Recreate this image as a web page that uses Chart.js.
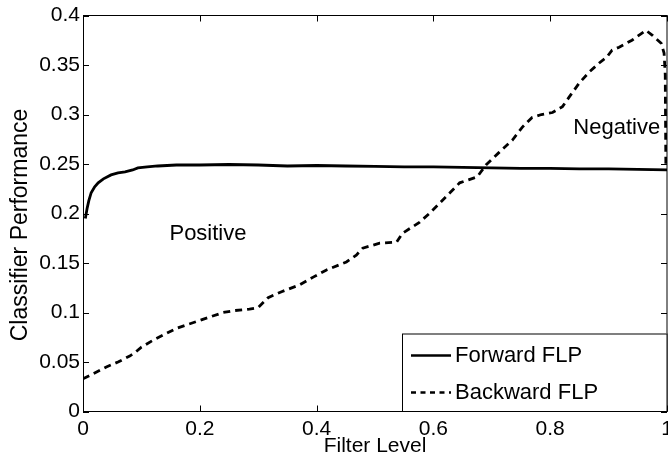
<!DOCTYPE html>
<html><head><meta charset="utf-8">
<script src="https://cdn.jsdelivr.net/npm/chart.js@4.4.0/dist/chart.umd.min.js"></script>
<style>html,body{margin:0;padding:0;background:#fff;}#wrap{width:668px;height:457px;}</style>
</head><body><div id="wrap"><canvas id="c" width="668" height="457"></canvas></div>
<script>
const FONT = '"Liberation Sans", Arial, Helvetica, sans-serif';

const xTicks = [0, 0.2, 0.4, 0.6, 0.8, 1];
const xTickLabels = ['0', '0.2', '0.4', '0.6', '0.8', '1'];
const yTicks = [0, 0.05, 0.1, 0.15, 0.2, 0.25, 0.3, 0.35, 0.4];
const yTickLabels = ['0', '0.05', '0.1', '0.15', '0.2', '0.25', '0.3', '0.35', '0.4'];

const xTitle = 'Filter Level';
const yTitle = 'Classifier Performance';
const seriesNames = ['Forward FLP', 'Backward FLP'];

const forwardX = [0.004, 0.007, 0.010, 0.014, 0.020, 0.026, 0.035, 0.048, 0.060, 0.072, 0.085, 0.094, 0.11, 0.128, 0.16, 0.20, 0.25, 0.30, 0.35, 0.40, 0.45, 0.50, 0.55, 0.60, 0.65, 0.70, 0.75, 0.80, 0.85, 0.90, 0.95, 1.00];
const forwardY = [0.195, 0.205, 0.213, 0.221, 0.227, 0.231, 0.235, 0.239, 0.241, 0.242, 0.244, 0.246, 0.247, 0.248, 0.249, 0.249, 0.2495, 0.249, 0.248, 0.2485, 0.248, 0.2475, 0.247, 0.247, 0.2465, 0.246, 0.2455, 0.2455, 0.245, 0.245, 0.2445, 0.244];

const backwardX = [0.000, 0.02, 0.04, 0.06, 0.08, 0.09, 0.10, 0.12, 0.14, 0.16, 0.18, 0.20, 0.22, 0.24, 0.26, 0.285, 0.30, 0.317, 0.34, 0.371, 0.395, 0.417, 0.451, 0.468, 0.479, 0.508, 0.537, 0.547, 0.576, 0.593, 0.610, 0.630, 0.645, 0.660, 0.675, 0.690, 0.713, 0.735, 0.752, 0.769, 0.785, 0.804, 0.821, 0.833, 0.850, 0.867, 0.884, 0.897, 0.906, 0.918, 0.940, 0.964, 0.975, 0.990, 0.995, 0.997, 0.998, 1.000];
const backwardY = [0.033, 0.039, 0.045, 0.050, 0.056, 0.060, 0.065, 0.072, 0.078, 0.084, 0.088, 0.092, 0.096, 0.100, 0.102, 0.1035, 0.105, 0.115, 0.121, 0.128, 0.136, 0.143, 0.151, 0.158, 0.165, 0.170, 0.171, 0.180, 0.191, 0.200, 0.210, 0.222, 0.231, 0.234, 0.237, 0.249, 0.262, 0.274, 0.287, 0.297, 0.300, 0.302, 0.308, 0.318, 0.332, 0.343, 0.352, 0.358, 0.365, 0.368, 0.375, 0.385, 0.380, 0.372, 0.362, 0.340, 0.250, 0.246];

const regionLabels = ['Positive', 'Negative'];
const regionX = [0.214, 0.914];
const regionY = [0.179, 0.286];

const toPoints = (xs, ys) => xs.map((x, i) => ({x: x, y: ys[i]}));

const overlay = {
  id: 'overlay',
  afterDraw(chart) {
    const ctx = chart.ctx, a = chart.chartArea;
    const xs = chart.scales.x, ys = chart.scales.y;
    ctx.save();
    ctx.strokeStyle = '#000';
    ctx.lineWidth = 1;
    ctx.setLineDash([]);
    // frame
    ctx.strokeRect(a.left + 0.5, a.top, a.right - a.left - 0.5, a.bottom - a.top);
    // inward ticks
    const tl = 6;
    ctx.beginPath();
    xTicks.forEach(v => {
      const px = Math.round(xs.getPixelForValue(v)) + 0.5;
      ctx.moveTo(px, a.bottom); ctx.lineTo(px, a.bottom - tl);
      ctx.moveTo(px, a.top); ctx.lineTo(px, a.top + tl);
    });
    yTicks.forEach(v => {
      const py = Math.round(ys.getPixelForValue(v)) + 0.5;
      ctx.moveTo(a.left, py); ctx.lineTo(a.left + tl, py);
      ctx.moveTo(a.right, py); ctx.lineTo(a.right - tl, py);
    });
    ctx.stroke();
    // y axis title
    ctx.fillStyle = '#000';
    ctx.save();
    ctx.translate(21, 225);
    ctx.rotate(-Math.PI / 2);
    ctx.font = '23px ' + FONT;
    ctx.textAlign = 'center';
    ctx.textBaseline = 'middle';
    ctx.fillText(yTitle, 0, 0);
    ctx.restore();
    // region labels
    ctx.font = '22px ' + FONT;
    ctx.textAlign = 'center';
    ctx.textBaseline = 'middle';
    regionLabels.forEach((t, i) => {
      ctx.fillText(t, xs.getPixelForValue(regionX[i]), ys.getPixelForValue(regionY[i]));
    });
    // legend
    const bw = 265, bh = 78;
    const bx = a.right - bw, by = a.bottom - bh;
    ctx.fillStyle = '#fff';
    ctx.fillRect(bx, by, bw, bh);
    ctx.strokeStyle = '#000';
    ctx.lineWidth = 1;
    ctx.strokeRect(bx + 0.5, by + 0.5, bw - 0.5, bh - 0.5);
    const rows = [by + 22, by + 59];
    chart.data.datasets.forEach((ds, i) => {
      ctx.beginPath();
      ctx.lineWidth = 2.6;
      ctx.setLineDash(i === 1 ? [5, 4.5] : []);
      ctx.moveTo(bx + 9, rows[i]);
      ctx.lineTo(bx + 49, rows[i]);
      ctx.stroke();
      ctx.setLineDash([]);
      ctx.fillStyle = '#000';
      ctx.textAlign = 'left';
      ctx.textBaseline = 'middle';
      ctx.font = '22px ' + FONT;
      ctx.fillText(ds.label, bx + 53, rows[i]);
    });
    ctx.restore();
  }
};

new Chart(document.getElementById('c'), {
  type: 'line',
  data: {
    datasets: [
      {label: seriesNames[0], data: toPoints(forwardX, forwardY), borderColor: '#000', borderWidth: 2.8, pointRadius: 0, fill: false, tension: 0},
      {label: seriesNames[1], data: toPoints(backwardX, backwardY), borderColor: '#000', borderWidth: 2.8, borderDash: [7, 5], pointRadius: 0, fill: false, tension: 0}
    ]
  },
  options: {
    responsive: false,
    animation: false,
    devicePixelRatio: 1,
    layout: {padding: {top: 15.5, right: 1, left: 0, bottom: 0}},
    plugins: {legend: {display: false}, tooltip: {enabled: false}},
    scales: {
      x: {
        type: 'linear', min: 0, max: 1,
        afterBuildTicks: s => { s.ticks = xTicks.map(v => ({value: v})); },
        ticks: {callback: (v, i) => xTickLabels[i], font: {family: FONT, size: 21}, color: '#000', padding: 5, maxRotation: 0, autoSkip: false},
        grid: {display: false, drawTicks: false},
        border: {display: false},
        title: {display: true, text: xTitle, color: '#000', font: {family: FONT, size: 21, lineHeight: 1}, padding: {top: 0, bottom: 0}},
        afterFit: s => { s.height = 45.5; s.paddingLeft = 0; s.paddingRight = 0; }
      },
      y: {
        type: 'linear', min: 0, max: 0.4,
        afterBuildTicks: s => { s.ticks = yTicks.map(v => ({value: v})); },
        ticks: {callback: (v, i) => yTickLabels[i], font: {family: FONT, size: 21}, color: '#000', padding: 3, autoSkip: false},
        grid: {display: false, drawTicks: false},
        border: {display: false},
        title: {display: false},
        afterFit: s => { s.width = 83; s.paddingTop = 0; s.paddingBottom = 0; }
      }
    }
  },
  plugins: [overlay]
});
</script>
</body></html>
